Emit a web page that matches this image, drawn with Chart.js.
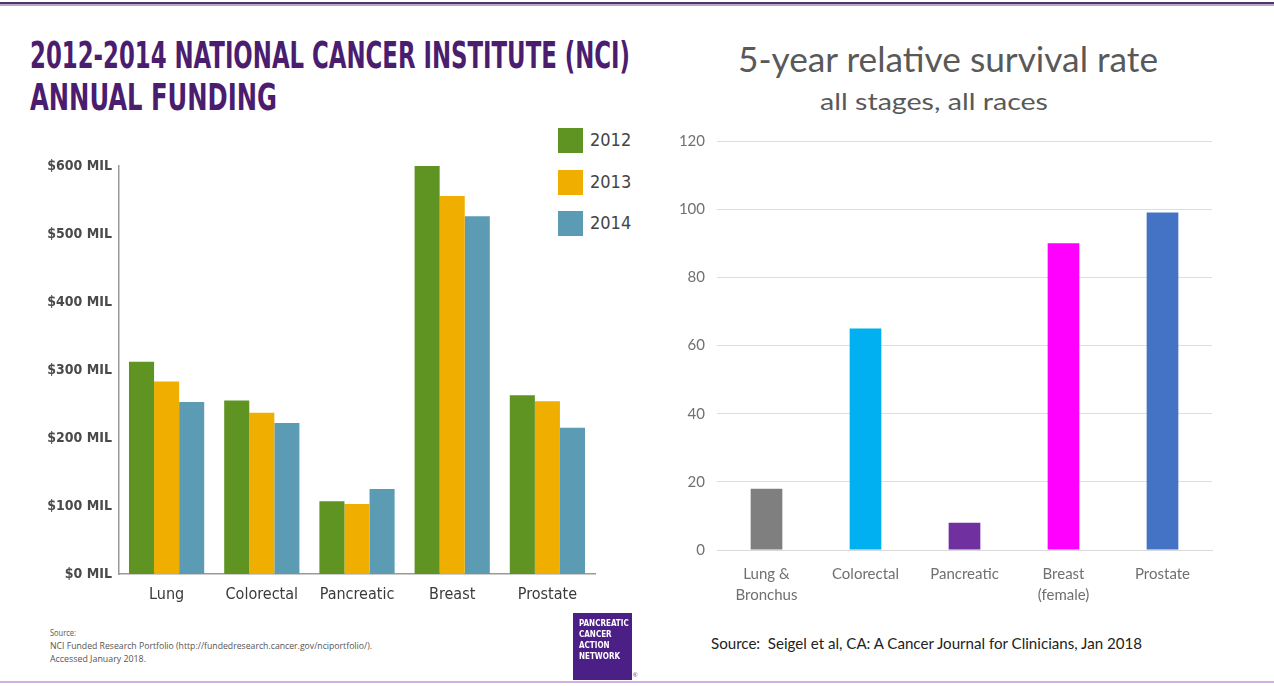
<!DOCTYPE html>
<html lang="en">
<head>
<meta charset="UTF-8">
<title>NCI Funding and 5-year Survival</title>
<script src="https://cdn.jsdelivr.net/npm/chart.js@4.4.1/dist/chart.umd.min.js"></script>
<style>
    html, body { margin: 0; padding: 0; background: #fff; }
    body { width: 1274px; height: 686px; position: relative; overflow: hidden; }
    .abs { position: absolute; white-space: nowrap; }
    .fit { display: inline-block; transform-origin: left top; }
    #topline { left: 0; top: 2px; width: 1274px; height: 2px; background: #4f3568; border-bottom: 2px solid #bca6d0; }
    #bottomline { left: 0; top: 681px; width: 1274px; height: 2px; background: #cdb2e2; }
    .leftTitle { left: 30px; color: #4a1d6f; font-family: 'Liberation Sans Narrow', 'DejaVu Sans Condensed', sans-serif; font-weight: bold; font-size: 38px; line-height: 38px; }
    .legendItem { left: 558px; height: 25px; }
    .legendItem .sw { position: absolute; left: 0; top: 0; width: 25px; height: 25px; }
    .legendItem .lb { position: absolute; left: 32px; top: 1px; font-family: 'Liberation Sans Narrow', 'DejaVu Sans Condensed', sans-serif; font-size: 18px; color: #444; }
    .src { left: 50px; color: #555; font-family: 'Open Sans', sans-serif; font-size: 8.5px; line-height: 13px; }
    #logo { left: 573px; top: 613px; width: 59px; height: 67px; background: #4b1f85; color: #fff; font-family: 'Liberation Sans Narrow', 'DejaVu Sans Condensed', sans-serif; font-weight: bold; font-size: 8px; line-height: 10.5px; padding: 0; }
    #logo div { position: absolute; left: 6px; }
    #reg { left: 633px; top: 672px; font-size: 6px; color: #4b1f85; font-family: sans-serif; }
    .rightTitle { color: #595959; font-family: Lato, 'Open Sans', sans-serif; }
    #leftCanvas { position: absolute; left: 0; top: 150px; }
    #rightCanvas { position: absolute; left: 660px; top: 120px; }
</style>
</head>
<body>
<div id="topline" class="abs"></div>
<div id="bottomline" class="abs"></div>

<div class="abs leftTitle" style="top:36px;"><span class="fit" data-w="600">2012-2014 NATIONAL CANCER INSTITUTE (NCI)</span></div>
<div class="abs leftTitle" style="top:78px;"><span class="fit" data-w="247">ANNUAL FUNDING</span></div>

<div id="legend"></div>

<canvas id="leftCanvas" width="640" height="470"></canvas>
<canvas id="rightCanvas" width="614" height="500"></canvas>

<div class="abs src" style="top:626px;"><span class="fit" data-w="26">Source:</span></div>
<div class="abs src" style="top:639px;"><span class="fit" data-w="322">NCI Funded Research Portfolio (http://fundedresearch.cancer.gov/nciportfolio/).</span></div>
<div class="abs src" style="top:652px;"><span class="fit" data-w="96">Accessed January 2018.</span></div>

<div id="logo" class="abs">
    <div style="top:6px;">PANCREATIC</div>
    <div style="top:17px;">CANCER</div>
    <div style="top:28px;">ACTION</div>
    <div style="top:39px;">NETWORK</div>
</div>
<div id="reg" class="abs">®</div>

<div class="abs rightTitle" style="left:738px; top:38px; font-size:35px; line-height:40px;"><span class="fit" data-w="420">5-year relative survival rate</span></div>
<div class="abs rightTitle" style="left:820px; top:86px; font-size:24px; line-height:30px;"><span class="fit" data-w="228">all stages, all races</span></div>

<div class="abs" style="left:711px; top:634px; font-family: Lato, 'Open Sans', sans-serif; font-size:15px; color:#222;"><span class="fit" data-w="431">Source:&nbsp;&nbsp;Seigel et al, CA: A Cancer Journal for Clinicians, Jan 2018</span></div>

<script>
// Left chart: NCI funding ($ millions)
const fundCategories = ['Lung', 'Colorectal', 'Pancreatic', 'Breast', 'Prostate'];
const fundYears = ['2012', '2013', '2014'];
const fund2012 = [312, 255, 107, 601, 263];
const fund2013 = [283, 237, 103, 556, 254];
const fund2014 = [253, 222, 125, 526, 215];
const fundColors = ['#5f9322', '#f0ae00', '#5b9bb4'];

// Right chart: 5-year relative survival (%)
const survCategories = [['Lung &', 'Bronchus'], 'Colorectal', 'Pancreatic', ['Breast', '(female)'], 'Prostate'];
const survValues = [18, 65, 8, 90, 99];
const survColors = ['#7f7f7f', '#00b0f0', '#7030a0', '#ff00ff', '#4472c4'];

const narrow = "'Liberation Sans Narrow', 'DejaVu Sans Condensed', sans-serif";

// squeeze text spans to the width they have in the picture
document.querySelectorAll('.fit').forEach(el => {
    const w = el.getBoundingClientRect().width;
    el.style.transform = 'scaleX(' + (parseFloat(el.dataset.w) / w) + ')';
});

// legend for the funding chart
const legendTops = [128, 170, 211];
const legend = document.getElementById('legend');
fundYears.forEach((y, i) => {
    const item = document.createElement('div');
    item.className = 'abs legendItem';
    item.style.top = legendTops[i] + 'px';
    item.innerHTML = '<div class="sw" style="background:' + fundColors[i] + '"></div><div class="lb">' + y + '</div>';
    legend.appendChild(item);
});

const leftChart = new Chart(document.getElementById('leftCanvas'), {
    type: 'bar',
    data: {
        labels: fundCategories,
        datasets: [
            { label: fundYears[0], data: fund2012, backgroundColor: fundColors[0] },
            { label: fundYears[1], data: fund2013, backgroundColor: fundColors[1] },
            { label: fundYears[2], data: fund2014, backgroundColor: fundColors[2] }
        ]
    },
    options: {
        responsive: false,
        animation: false,
        layout: { padding: { left: 0, top: 16, right: 45, bottom: 0 } },
        datasets: { bar: { categoryPercentage: 0.79, barPercentage: 1.0 } },
        plugins: { legend: { display: false }, tooltip: { enabled: false } },
        scales: {
            x: {
                grid: { display: false, drawTicks: false },
                border: { display: true, color: '#9a9a9a', width: 1.5 },
                ticks: { color: '#3a3a3a', font: { family: narrow, size: 16 }, padding: 11 },
                afterFit: s => { s.height = 46; }
            },
            y: {
                min: 0, max: 600,
                grid: { display: false, drawTicks: false },
                border: { display: true, color: '#9a9a9a', width: 1.5 },
                ticks: {
                    stepSize: 100,
                    color: '#4a4a4a',
                    font: { family: narrow, size: 14, weight: 'bold' },
                    padding: 7,
                    callback: v => '$' + v + ' MIL'
                },
                afterFit: s => { s.width = 119; }
            }
        }
    }
});

const rightChart = new Chart(document.getElementById('rightCanvas'), {
    type: 'bar',
    data: {
        labels: survCategories,
        datasets: [{ label: '5-year relative survival', data: survValues, backgroundColor: survColors }]
    },
    options: {
        responsive: false,
        animation: false,
        layout: { padding: { left: 0, top: 20, right: 62, bottom: 0 } },
        datasets: { bar: { categoryPercentage: 1.0, barPercentage: 0.32 } },
        plugins: { legend: { display: false }, tooltip: { enabled: false } },
        scales: {
            x: {
                grid: { display: false, drawTicks: false },
                border: { display: true, color: '#d9d9d9' },
                ticks: { color: '#707070', font: { family: 'Lato', size: 15, lineHeight: 1.45 }, padding: 13 },
                afterFit: s => { s.height = 70; }
            },
            y: {
                min: 0, max: 120,
                grid: { color: '#dedede', drawTicks: false },
                border: { display: false },
                ticks: { stepSize: 20, color: '#707070', font: { family: 'Lato', size: 15 }, padding: 12 },
                afterFit: s => { s.width = 57; }
            }
        }
    }
});
</script>
</body>
</html>
